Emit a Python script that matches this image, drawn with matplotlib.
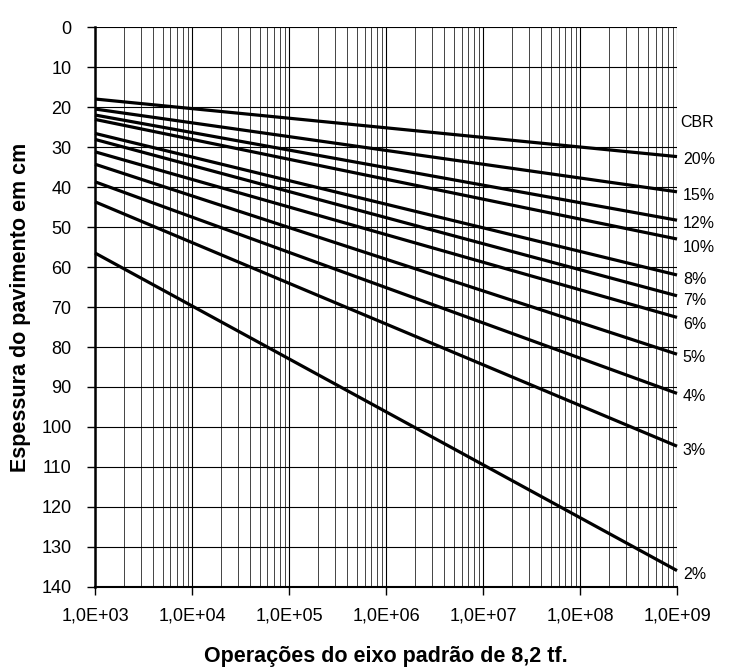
import numpy as np
import matplotlib
matplotlib.use("Agg")
import matplotlib.pyplot as plt
from matplotlib.ticker import FixedLocator, LogLocator, NullFormatter

plt.rcParams['font.family'] = ['Liberation Sans', 'DejaVu Sans']

cbr_labels = ["20%", "15%", "12%", "10%", "8%", "7%", "6%", "5%", "4%", "3%", "2%"]
n_start = 1e3
n_end = 1e9
thick_start = [18.0, 20.5, 22.0, 23.1, 26.6, 28.1, 31.2, 34.3, 38.7, 43.7, 56.5]
thick_end = [32.4, 41.2, 48.3, 53.0, 62.0, 67.2, 72.6, 81.8, 91.6, 104.8, 135.9]
label_y = [33.0, 42.0, 49.0, 55.0, 63.0, 68.3, 74.3, 82.5, 92.5, 106.0, 136.8]
x_ticks = [1e3, 1e4, 1e5, 1e6, 1e7, 1e8, 1e9]
x_tick_labels = ["1,0E+03", "1,0E+04", "1,0E+05", "1,0E+06", "1,0E+07", "1,0E+08", "1,0E+09"]
y_ticks = list(range(0, 141, 10))

fig = plt.figure(figsize=(7.4, 6.72), dpi=100)
ax = fig.add_axes([0.1284, 0.1265, 0.7865, 0.8333])
ax.set_xscale('log')
ax.set_xlim(n_start, n_end)
ax.set_ylim(140, 0)

# grid
ax.xaxis.set_minor_locator(LogLocator(base=10, subs=np.arange(2, 10), numticks=100))
ax.xaxis.set_minor_formatter(NullFormatter())
ax.grid(which='major', axis='x', color='black', linewidth=0.8)
ax.grid(which='minor', axis='x', color='#444444', linewidth=0.7)
ax.grid(which='major', axis='y', color='black', linewidth=0.8)
ax.set_axisbelow(True)

for lab, y0, y1, ly in zip(cbr_labels, thick_start, thick_end, label_y):
    ax.plot([n_start, n_end], [y0, y1], color='black', linewidth=2.3, solid_capstyle='butt', clip_on=False)
    ax.text(1.01, ly, lab, transform=ax.get_yaxis_transform(), fontsize=11.5, va='center', ha='left')

ax.text(1.005, 23.8, "CBR", transform=ax.get_yaxis_transform(), fontsize=11.5, va='center', ha='left')

ax.xaxis.set_major_locator(FixedLocator(x_ticks))
ax.set_xticklabels(x_tick_labels)
ax.set_yticks(y_ticks)
ax.tick_params(axis='both', which='major', direction='out', length=6, width=1, labelsize=13)
ax.tick_params(axis='x', which='minor', length=0)
ax.tick_params(axis='x', pad=9)
ax.tick_params(axis='y', pad=11)

for s in ['top', 'right']:
    ax.spines[s].set_visible(False)
ax.spines['left'].set_linewidth(1.8)
ax.spines['bottom'].set_linewidth(1.5)

ax.set_xlabel("Operações do eixo padrão de 8,2 tf.", fontsize=15.5, fontweight='bold', labelpad=15)
ax.set_ylabel("Espessura do pavimento em cm", fontsize=15.5, fontweight='bold', labelpad=7)

fig.savefig("out.png", dpi=100)
